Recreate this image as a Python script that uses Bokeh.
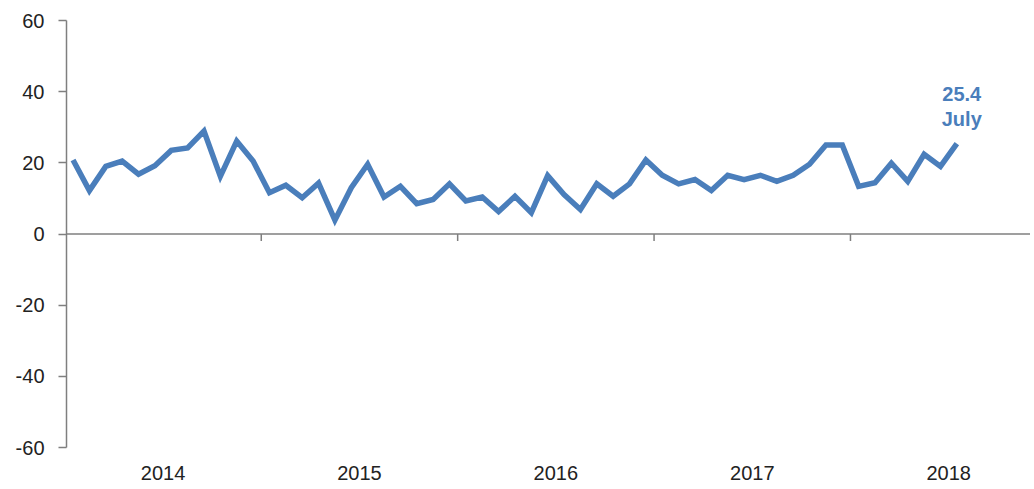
from bokeh.plotting import figure
from bokeh.models import Range1d, FixedTicker, Span, Label
from bokeh.embed import file_html
from bokeh.resources import INLINE

# Monthly values, Jan 2014 .. Jul 2018
years = ["2014", "2015", "2016", "2017", "2018"]
values = [
    # 2014
    20.8, 12.2, 19.0, 20.5, 16.8, 19.2, 23.5, 24.2, 28.9, 16.2, 26.1, 20.5,
    # 2015
    11.6, 13.7, 10.2, 14.3, 3.9, 13.0, 19.6, 10.4, 13.4, 8.5, 9.7, 14.1,
    # 2016
    9.3, 10.4, 6.3, 10.6, 6.0, 16.4, 11.1, 6.9, 14.1, 10.6, 14.1, 20.8,
    # 2017
    16.5, 14.1, 15.3, 12.2, 16.5, 15.3, 16.5, 14.8, 16.5, 19.6, 25.0, 25.0,
    # 2018
    13.4, 14.4, 19.9, 14.8, 22.4, 19.0, 25.4,
]
last_label = ["25.4", "July"]
y_ticks = [-60, -40, -20, 0, 20, 40, 60]
y_tick_labels = ["-60", "-40", "-20", "0", "20", "40", "60"]

months = list(range(len(values)))
year_centers = [12 * i + 5.5 for i in range(len(years))]
year_bounds = [12 * i + 11.5 for i in range(len(years) - 1)]

BLUE = "#4a7ebb"
GREY = "#7f7f7f"
FONT = "Liberation Sans"

p = figure(width=1030, height=485, output_backend="svg", toolbar_location=None,
           x_range=Range1d(-0.4, 58.5), y_range=Range1d(-60, 60),
           min_border_left=66, min_border_top=20, min_border_right=0,
           min_border_bottom=38)
p.outline_line_color = None
p.grid.visible = False
p.background_fill_color = "white"

# y axis
p.yaxis.ticker = FixedTicker(ticks=y_ticks)
p.yaxis.major_label_overrides = {t: s for t, s in zip(y_ticks, y_tick_labels)}
p.yaxis.axis_line_color = GREY
p.yaxis.axis_line_width = 1.5
p.yaxis.major_tick_line_color = GREY
p.yaxis.major_tick_line_width = 1.5
p.yaxis.major_tick_out = 8
p.yaxis.major_tick_in = 0
p.yaxis.minor_tick_line_color = None
p.yaxis.major_label_standoff = 14
p.yaxis.major_label_text_font = FONT
p.yaxis.major_label_text_font_size = "20px"
p.yaxis.major_label_text_color = "#222222"

# x axis: only year labels
p.xaxis.ticker = FixedTicker(ticks=year_centers)
p.xaxis.major_label_overrides = {c: y for c, y in zip(year_centers, years)}
p.xaxis.axis_line_color = None
p.xaxis.major_tick_line_color = None
p.xaxis.minor_tick_line_color = None
p.xaxis.major_label_standoff = 12
p.xaxis.major_label_text_font = FONT
p.xaxis.major_label_text_font_size = "20px"
p.xaxis.major_label_text_color = "#222222"

# zero line and year boundary ticks
p.add_layout(Span(location=0, dimension="width", line_color=GREY, line_width=1.5))
p.segment(x0=year_bounds, y0=[0] * len(year_bounds), x1=year_bounds,
          y1=[-2.0] * len(year_bounds), line_color=GREY, line_width=1.5)

# data line
p.line(months, values, line_color=BLUE, line_width=5.5, line_join="miter")

# annotation for the last value
lx = months[-1] + 0.3
p.add_layout(Label(x=lx, y=values[-1] + 14, text=last_label[0], text_align="center",
                   text_baseline="middle", text_font=FONT, text_font_size="20px",
                   text_font_style="bold", text_color=BLUE))
p.add_layout(Label(x=lx, y=values[-1] + 7, text=last_label[1], text_align="center",
                   text_baseline="middle", text_font=FONT, text_font_size="20px",
                   text_font_style="bold", text_color=BLUE))

open("out.html", "w").write(file_html(p, INLINE))
